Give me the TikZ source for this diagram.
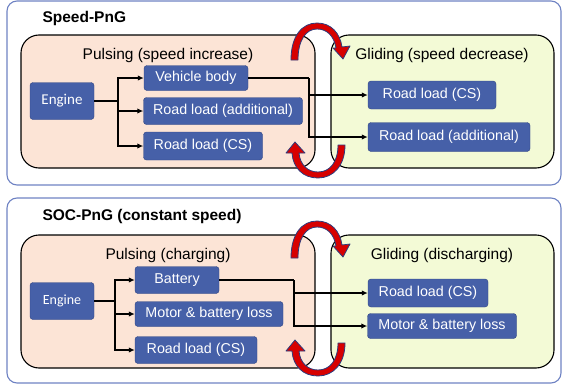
\documentclass[tikz,border=0pt]{standalone}
\usepackage{fontspec}
\setmainfont{Liberation Sans}
\newfontfamily\enginefont{Carlito}
\usetikzlibrary{arrows.meta}

\definecolor{boxblue}{RGB}{70,96,168}
\definecolor{boxedge}{RGB}{47,68,130}
\definecolor{panelline}{RGB}{110,130,195}
\definecolor{pulsefill}{RGB}{252,228,214}
\definecolor{glidefill}{RGB}{243,250,214}
\definecolor{swapred}{RGB}{215,0,0}
\definecolor{swapedge}{RGB}{45,60,125}

\tikzset{
  flowbox/.style={draw=boxedge, fill=boxblue, rounded corners=3, text=white,
    font=\fontsize{14.3}{16}\selectfont, inner sep=0pt},
  enginebox/.style={flowbox, font=\enginefont\fontsize{15}{17}\selectfont},
  panel/.style={draw=panelline, line width=1.1, rounded corners=10},
  phase/.style={draw=black, line width=1.1, rounded corners=18},
  phaselabel/.style={font=\fontsize{15.5}{18}\selectfont},
  paneltitle/.style={anchor=west, font=\bfseries\fontsize{15.5}{18}\selectfont},
  feed/.style={line width=1.7},
  flow/.style={line width=1.6, -{Latex[length=6pt,width=5.5pt]}},
  swap/.style={fill=swapred, draw=swapedge, line width=0.8, line join=round},
}

\begin{document}
\begin{tikzpicture}[x=1pt,y=-1pt]
\useasboundingbox (0,0) rectangle (563,388);

% Speed-PnG
\draw[panel] (7,1) rectangle (561,185);
\node[paneltitle] (t1) at (39,18) {Speed-PnG};
\draw[phase, fill=pulsefill] (21,35) rectangle (315,168);
\draw[phase, fill=glidefill] (331,35) rectangle (554,168);
\node[phaselabel] (p1) at (168,55) {Pulsing (speed increase)};
\node[phaselabel] (g1) at (442,55) {Gliding (speed decrease)};

\node[enginebox, minimum width=64, minimum height=37] (eng1) at (62,101) {Engine};
\node[flowbox, minimum width=104, minimum height=25] (vb) at (196,78) {Vehicle body};
\node[flowbox, minimum width=159, minimum height=27] (rla1) at (223,111) {Road load (additional)};
\node[flowbox, minimum width=119, minimum height=28] (rcs1) at (203,146) {Road load (CS)};
\node[flowbox, minimum width=128, minimum height=28] (gcs1) at (432,95) {Road load (CS)};
\node[flowbox, minimum width=162, minimum height=29] (gla1) at (449,137) {Road load (additional)};

\coordinate (sj1) at (118,101);
\coordinate (vj1) at (309,78);
\draw[feed] (eng1) -- (sj1);
\draw[flow] (sj1) |- (vb);
\draw[flow] (sj1) |- (rla1);
\draw[flow] (sj1) |- (rcs1);
\draw[feed] (vb) -- (vj1);
\draw[flow] (vj1) |- (gcs1);
\draw[flow] (vj1) |- (gla1);

% SOC-PnG
\draw[panel] (7,198) rectangle (561,383);
\node[paneltitle] (t2) at (39,216) {SOC-PnG (constant speed)};
\draw[phase, fill=pulsefill] (21,235) rectangle (315,368);
\draw[phase, fill=glidefill] (331,235) rectangle (554,368);
\node[phaselabel] (p2) at (168,255) {Pulsing (charging)};
\node[phaselabel] (g2) at (442,255) {Gliding (discharging)};

\node[enginebox, minimum width=64, minimum height=37, font=\enginefont\fontsize{14}{16}\selectfont] (eng2) at (62,301) {Engine};
\node[flowbox, minimum width=84, minimum height=27] (bat) at (177,280) {Battery};
\node[flowbox, minimum width=148, minimum height=25] (mbl2) at (209,314) {Motor \& battery loss};
\node[flowbox, minimum width=122, minimum height=27] (rcs2) at (196,350) {Road load (CS)};
\node[flowbox, minimum width=120, minimum height=28] (gcs2) at (428,293) {Road load (CS)};
\node[flowbox, minimum width=149, minimum height=25] (gmb2) at (442,326) {Motor \& battery loss};

\coordinate (sj2) at (115,301);
\coordinate (vj2) at (294,280);
\draw[feed] (eng2) -- (sj2);
\draw[flow] (sj2) |- (bat);
\draw[flow] (sj2) |- (mbl2);
\draw[flow] (sj2) |- (rcs2);
\draw[feed] (bat) -- (vj2);
\draw[flow] (vj2) |- (gcs2);
\draw[flow] (vj2) |- (gmb2);

% curved arrows between the phases
\foreach \dy in {0,198}{
\begin{scope}[yshift=-\dy pt]
\draw[swap] (291,60) .. controls (291,36) and (302,23) .. (317,23)
  .. controls (331,23) and (340,33) .. (342,47) -- (350,46) -- (343,59) -- (333,48) -- (336,48)
  .. controls (334,36) and (327,29) .. (317,29)
  .. controls (306,29) and (298,40) .. (298,60) -- cycle;
\draw[swap] (345,145) .. controls (345,166) and (333,178) .. (318,178)
  .. controls (303,178) and (293,168) .. (292,153) -- (286,153) -- (295,142) -- (305,153) -- (299,153)
  .. controls (300,165) and (308,172) .. (318,172)
  .. controls (330,172) and (338,162) .. (338,145) -- cycle;
\end{scope}
}
\end{tikzpicture}
\end{document}
